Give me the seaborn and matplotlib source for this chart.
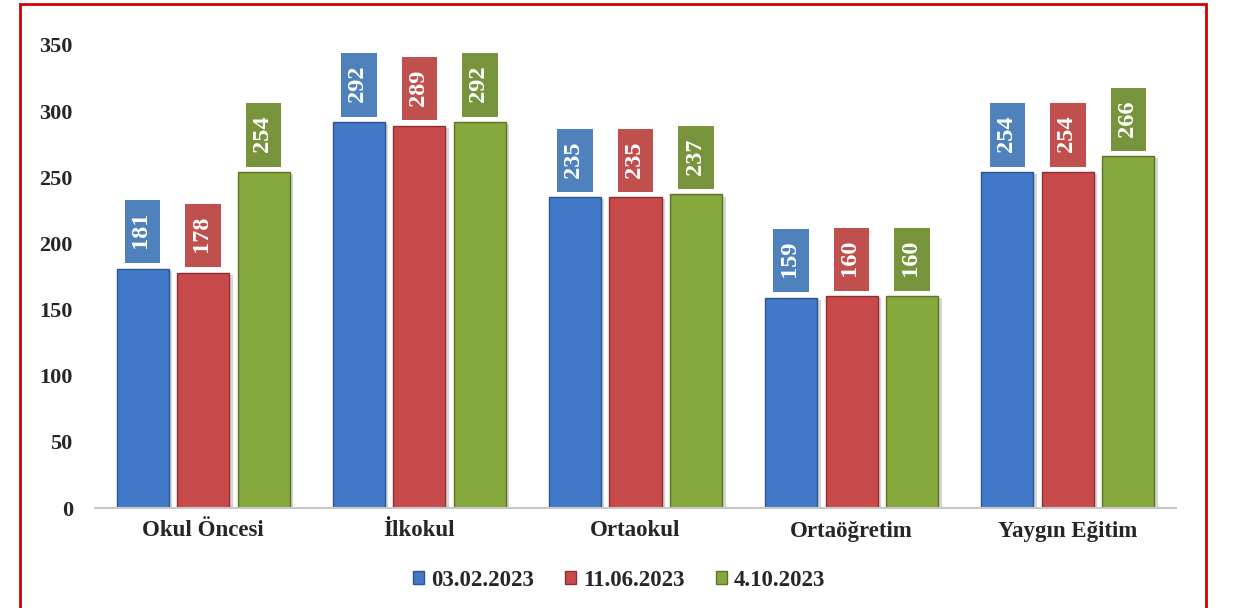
import pandas as pd
import matplotlib.pyplot as plt
import seaborn as sns
from matplotlib.patches import Rectangle
import matplotlib.patheffects as pe

# Data
categories = ["Okul Öncesi", "İlkokul", "Ortaokul", "Ortaöğretim", "Yaygın Eğitim"]
dates = ["03.02.2023", "11.06.2023", "4.10.2023"]
v_0302 = [181, 292, 235, 159, 254]
v_1106 = [178, 289, 235, 160, 254]
v_0410 = [254, 292, 237, 160, 266]

bar_colors = ["#4279c8", "#c94a4a", "#86a83c"]
box_colors = ["#4f81bd", "#c0504d", "#77933c"]
edge_colors = ["#2c5590", "#8e2f2f", "#5b7426"]

rows = []
for d, vals in zip(dates, [v_0302, v_1106, v_0410]):
    for c, v in zip(categories, vals):
        rows.append({"Kategori": c, "Tarih": d, "Sayı": v})
df = pd.DataFrame(rows)

sns.set_style("white")
plt.rcParams["font.family"] = ["Liberation Serif", "DejaVu Serif"]

fig = plt.figure(figsize=(12.43, 6.08), dpi=100)
ax = fig.add_axes([95 / 1243, 1 - 508 / 608, (1176 - 95) / 1243, (508 - 45) / 608])

sns.barplot(data=df, x="Kategori", y="Sayı", hue="Tarih", order=categories,
            hue_order=dates, palette=bar_colors, width=0.84, gap=0.14,
            saturation=1, ax=ax, legend=True)

shadow = [pe.SimplePatchShadow(offset=(2.5, -1.5), shadow_rgbFace="#888888", alpha=0.35),
          pe.Normal()]
for i, cont in enumerate(ax.containers):
    for bar in cont:
        bar.set_edgecolor(edge_colors[i])
        bar.set_linewidth(1.0)
        bar.set_path_effects(shadow)
    for bar in cont:
        h = bar.get_height()
        ax.annotate(f" {int(h)} ", xy=(bar.get_x() + bar.get_width() / 2, h),
                    xytext=(0, 9), textcoords="offset points",
                    ha="center", va="bottom", rotation=90,
                    color="white", fontsize=17.5, fontweight="bold",
                    bbox=dict(boxstyle="square,pad=0.3", fc=box_colors[i], ec="none"))

ax.set_ylim(0, 350)
ax.set_yticks(range(0, 351, 50))
ax.set_xlabel("")
ax.set_ylabel("")
sns.despine(ax=ax, left=True)
ax.spines["bottom"].set_color("#c8c8c8")
ax.spines["bottom"].set_linewidth(1.5)
ax.tick_params(axis="y", length=0, pad=16, labelsize=16)
ax.tick_params(axis="x", length=0, pad=9, labelsize=16.5)
for lab in ax.get_xticklabels() + ax.get_yticklabels():
    lab.set_fontweight("bold")

ax.get_legend().remove()
handles = [Rectangle((0, 0), 1, 1, fc=bar_colors[i], ec=edge_colors[i]) for i in range(3)]
fig.legend(handles, dates, loc="center", bbox_to_anchor=(0.498, 1 - 580 / 608),
           ncol=3, frameon=False, handlelength=0.5, handleheight=0.5,
           handletextpad=0.3, columnspacing=1.35,
           prop={"weight": "bold", "size": 16.5})

# red frame around chart
fig.add_artist(Rectangle((20 / 1243, -0.02), (1206 - 20) / 1243, 1.02 - 4 / 608,
                         transform=fig.transFigure, fill=False,
                         edgecolor="#d00000", linewidth=2))

fig.savefig("out.png", dpi=100)
